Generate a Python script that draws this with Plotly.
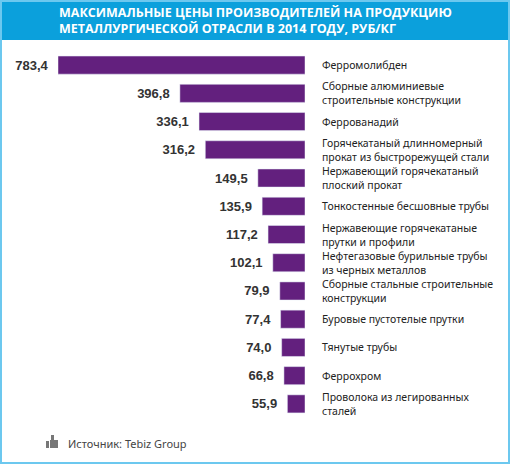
import plotly.graph_objects as go

categories = ["Ферромолибден", "Сборные алюминиевые<br>строительные конструкции", "Феррованадий",
              "Горячекатаный длинномерный<br>прокат из быстрорежущей стали", "Нержавеющий горячекатаный<br>плоский прокат",
              "Тонкостенные бесшовные трубы", "Нержавеющие горячекатаные<br>прутки и профили",
              "Нефтегазовые бурильные трубы<br>из черных металлов", "Сборные стальные строительные<br>конструкции",
              "Буровые пустотелые прутки", "Тянутые трубы", "Феррохром", "Проволока из легированных<br>сталей"]
values = [783.4, 396.8, 336.1, 316.2, 149.5, 135.9, 117.2, 102.1, 79.9, 77.4, 74.0, 66.8, 55.9]
labels = [f"{v:.1f}".replace(".", ",") for v in values]

W, H = 510, 464
idx = list(range(len(values)))

fig = go.Figure(go.Bar(
    x=values, y=idx, orientation="h", marker=dict(color="#63207e"), width=0.64,
    text=labels, textposition="outside", cliponaxis=False,
    textfont=dict(family="Arial", size=13, color="#333333"),
))
fig.update_traces(texttemplate="<b>%{text}  </b>", hoverinfo="skip")

ann = []
for i, c in zip(idx, categories):
    ann.append(dict(x=320 / W, xref="paper", y=i, yref="y", text=c, showarrow=False, xanchor="left",
                    align="left", font=dict(family="Noto Sans", size=10.5, color="#222222")))
ann.append(dict(x=0.5, xref="paper", y=1 - 21 / H, yref="paper", showarrow=False, yanchor="middle",
                text="<b>МАКСИМАЛЬНЫЕ ЦЕНЫ ПРОИЗВОДИТЕЛЕЙ НА ПРОДУКЦИЮ</b><br><b>МЕТАЛЛУРГИЧЕСКОЙ ОТРАСЛИ В 2014 ГОДУ, РУБ/КГ</b>",
                font=dict(family="Open Sans", size=12.5, color="white"), align="left"))
ann.append(dict(x=66 / W, xref="paper", y=1 - 443 / H, yref="paper", showarrow=False, xanchor="left",
                yanchor="middle", text="Источник: Tebiz Group",
                font=dict(family="Noto Sans", size=11, color="#444444")))

shapes = [
    dict(type="rect", xref="paper", yref="paper", x0=0, x1=1, y0=1 - 40 / H, y1=1,
         fillcolor="#0ba0dc", line_width=0, layer="below"),
    dict(type="rect", xref="paper", yref="paper", x0=1 / W, x1=1 - 1 / W, y0=1 / H, y1=1 - 1 / H,
         line=dict(color="#6cc8ef", width=2)),
    # thumbs-up icon
    dict(type="rect", xref="paper", yref="paper", x0=46 / W, x1=49 / W, y0=1 - 448 / H, y1=1 - 441 / H,
         fillcolor="#777777", line_width=0),
    dict(type="rect", xref="paper", yref="paper", x0=50 / W, x1=58 / W, y0=1 - 448 / H, y1=1 - 440 / H,
         fillcolor="#777777", line_width=0),
    dict(type="rect", xref="paper", yref="paper", x0=51 / W, x1=54 / W, y0=1 - 440 / H, y1=1 - 435 / H,
         fillcolor="#777777", line_width=0),
]

fig.update_layout(
    width=W, height=H, margin=dict(l=0, r=0, t=0, b=0),
    paper_bgcolor="white", plot_bgcolor="white", showlegend=False,
    xaxis=dict(domain=[58 / W, 305 / W], range=[783.4, 0], visible=False),
    yaxis=dict(domain=[1 - 418 / H, 1 - 51 / H], range=[12.5, -0.5], visible=False),
    annotations=ann, shapes=shapes,
)
fig.write_html("out.html", config={"displayModeBar": False},
               post_script="document.body.style.margin='0';document.body.style.overflow='hidden';")
